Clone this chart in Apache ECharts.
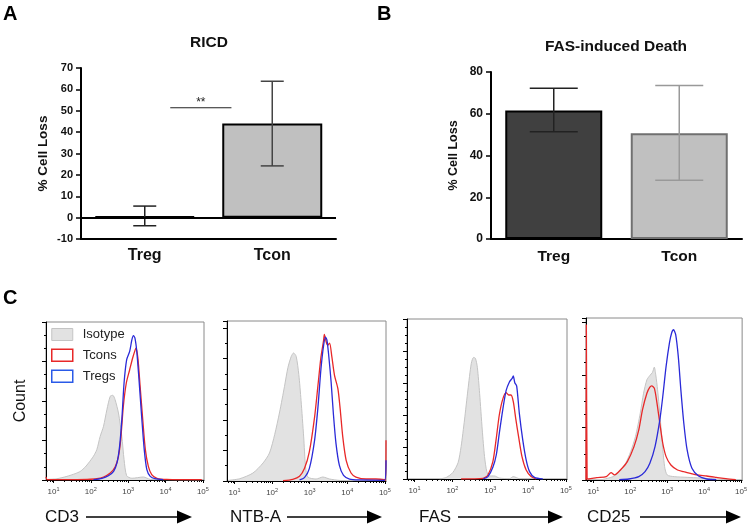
<!DOCTYPE html>
<html><head><meta charset="utf-8">
<script src="https://cdn.jsdelivr.net/npm/echarts@6/dist/echarts.min.js"></script>
<style>html,body{margin:0;padding:0;background:#fff}#c{width:750px;height:526px}</style>
</head><body><div id="c"></div>
<script>
// ---------- Data ----------
const groups = ['Treg', 'Tcon'];
// Panel A: RICD
const ricdMean = [0.5, 44.0];
const ricdLow  = [-3.8, 24.2];
const ricdHigh = [5.4, 63.8];
const ricdSig  = [0.2, 0.68, 51.4]; // bracket from/to (category units), height
const ricdSigText = '**';
// Panel B: FAS-induced death
const fasMean = [61.6, 50.6];
const fasLow  = [51.4, 28.1];
const fasHigh = [72.2, 73.5];
// Panel C: flow histograms, [log10 fluorescence, count]
const decadeExponents = [1, 2, 3, 4, 5];
const isoCD3 = [[0.83,0.4],[1.09,0.8],[1.36,2.3],[1.58,4.0],[1.72,5.5],[1.85,8.2],[1.94,10.8],[2.07,15.0],[2.16,19.2],[2.25,27.6],[2.34,34.0],[2.43,44.5],[2.52,53.0],[2.59,53.6],[2.65,50.8],[2.74,42.4],[2.83,27.6],[2.89,12.9],[2.96,2.7],[3.10,1.1],[3.41,1.9],[3.59,0.4],[3.85,0.2],[4.92,0]];
const tconCD3 = [[0.80,2.0],[0.83,0.3],[1.36,0.2],[1.90,0.4],[2.16,0.8],[2.34,1.9],[2.52,4.4],[2.65,8.2],[2.74,15.0],[2.80,25.5],[2.87,46.6],[2.95,61.4],[3.04,69.8],[3.12,77.2],[3.19,82.5],[3.21,83.5],[3.26,77.2],[3.32,59.3],[3.39,38.2],[3.46,19.2],[3.54,8.6],[3.63,3.4],[3.77,1.1],[4.03,0.4],[4.97,0.2]];
const tregCD3 = [[2.07,0.2],[2.30,1.1],[2.47,2.7],[2.61,5.5],[2.70,10.8],[2.77,21.3],[2.83,38.2],[2.89,61.4],[2.96,76.2],[3.04,81.4],[3.10,88.8],[3.14,91.4],[3.18,89.9],[3.23,81.4],[3.29,63.5],[3.36,40.3],[3.43,19.2],[3.50,6.5],[3.59,2.3],[3.72,0.8],[3.94,0.2]];
const isoNTBA = [[0.83,0.4],[1.14,1.5],[1.49,5.2],[1.76,11.8],[1.93,18.3],[2.07,30.5],[2.20,45.1],[2.33,61.9],[2.42,74.1],[2.51,81.5],[2.57,83.7],[2.64,81.5],[2.71,69.7],[2.77,52.7],[2.84,28.8],[2.89,9.2],[2.95,2.6],[3.17,1.3],[3.35,2.6],[3.53,1.3],[3.79,0.4],[4.15,0.2]];
const tconNTBA = [[2.29,0.2],[2.55,1.1],[2.73,3.1],[2.86,8.1],[2.99,19.0],[3.13,41.8],[3.22,62.5],[3.30,81.1],[3.37,92.0],[3.39,95.9],[3.44,90.9],[3.48,88.7],[3.53,90.2],[3.59,81.1],[3.66,69.1],[3.75,60.4],[3.81,47.3],[3.88,28.8],[3.97,13.5],[4.10,5.2],[4.23,2.6],[4.50,1.3],[4.76,1.3],[4.99,0.9],[5.02,0.4],[5.03,26.6]];
const tregNTBA = [[2.73,0.7],[2.86,2.2],[2.99,8.1],[3.13,26.6],[3.22,48.4],[3.30,73.4],[3.37,88.7],[3.42,94.1],[3.46,92.0],[3.51,81.1],[3.57,64.7],[3.63,44.0],[3.70,24.4],[3.79,10.2],[3.90,3.7],[4.06,1.3],[4.32,0.7],[4.99,0.4],[5.03,13.5]];
const isoFAS = [[1.66,0],[1.84,1.0],[2.01,4.0],[2.15,10.2],[2.23,20.2],[2.32,36.9],[2.41,55.6],[2.50,72.3],[2.56,76.0],[2.61,75.4],[2.66,69.8],[2.72,53.5],[2.79,30.6],[2.85,14.0],[2.91,4.6],[2.98,1.9],[3.11,1.9],[3.24,0.6],[3.51,0.2],[3.61,1.5],[3.77,0.2],[4.04,0]];
const tconFAS = [[2.23,0],[2.81,0.4],[2.94,2.5],[3.07,10.8],[3.16,25.4],[3.24,40.0],[3.33,49.8],[3.42,54.0],[3.49,52.5],[3.55,52.5],[3.61,48.3],[3.68,36.9],[3.75,26.5],[3.84,14.0],[3.95,5.6],[4.08,1.5],[4.21,0]];
const tregFAS = [[2.81,0],[2.94,1.5],[3.07,7.3],[3.16,15.0],[3.24,28.5],[3.33,43.1],[3.42,55.2],[3.51,60.8],[3.58,62.9],[3.61,64.4],[3.65,60.2],[3.70,58.1],[3.77,41.0],[3.86,24.4],[3.95,11.9],[4.04,4.6],[4.17,1.0],[4.39,0]];
const isoCD25 = [[1.26,1.3],[1.53,6.4],[1.70,15.9],[1.88,33.1],[2.01,54.1],[2.14,82.8],[2.27,127.4],[2.36,165.6],[2.45,191.1],[2.53,199.4],[2.60,205.1],[2.65,215.3],[2.69,200.6],[2.74,172.0],[2.80,127.4],[2.86,76.4],[2.93,25.5],[3.00,9.6],[3.19,6.4],[3.54,5.1],[3.89,3.8],[4.33,1.9],[4.77,0.6]];
const tconCD25 = [[0.80,0],[0.81,296],[0.83,3],[0.87,1.9],[1.09,4.5],[1.35,6.4],[1.48,14.0],[1.57,9.6],[1.75,20.4],[1.92,35.0],[2.10,63.7],[2.23,95.5],[2.33,133.8],[2.45,165.6],[2.53,177.1],[2.58,179.6],[2.65,175.2],[2.71,152.9],[2.80,108.3],[2.88,70.1],[2.97,44.6],[3.10,28.7],[3.28,19.1],[3.45,15.9],[3.63,12.7],[3.80,9.6],[4.07,7.6],[4.33,5.1],[4.59,2.5],[4.86,0.6]];
const tregCD25 = [[1.70,0.6],[1.96,1.9],[2.23,6.4],[2.40,15.9],[2.53,31.8],[2.67,63.7],[2.80,114.6],[2.88,159.2],[2.97,216.6],[3.06,261.1],[3.12,280.3],[3.17,286.6],[3.23,277.1],[3.30,235.7],[3.37,172.0],[3.45,108.3],[3.54,57.3],[3.67,22.3],[3.85,7.6],[4.07,1.9],[4.33,0.6]];
const markers = ['CD3', 'NTB-A', 'FAS', 'CD25'];
const seriesNames = ['Isotype', 'Tcons', 'Tregs'];

// ---------- Layout / style ----------
const FONT = '"Liberation Sans", Arial, Helvetica, sans-serif';
const flowData = [
  [isoCD3, tconCD3, tregCD3],
  [isoNTBA, tconNTBA, tregNTBA],
  [isoFAS, tconFAS, tregFAS],
  [isoCD25, tconCD25, tregCD25]
];
const flowLayout = [
  {grid:{left:46, top:322, width:158, height:158}, yMax:100, yInt:25, minor:3, text:45, a0:86, a1:192},
  {grid:{left:227, top:321, width:159, height:160}, yMax:104.6, yInt:20, minor:2, text:230, a0:287, a1:382},
  {grid:{left:407, top:319, width:160, height:160}, yMax:100, yInt:20, minor:4, text:419, a0:458, a1:563},
  {grid:{left:586, top:318, width:161, height:162}, yMax:309, yInt:100, minor:4, text:587, a0:640, a1:741}
];
const XMIN = 0.8, XMAX = 5.03;
const minorVals = [];
for (let d = 0; d < 5; d++) for (let k = 2; k <= 9; k++) {
  const v = d + Math.log10(k);
  if (v > XMIN && v < XMAX) minorVals.push(v);
}
const lineColors = ['#c4c4c4', '#e82828', '#2a2ad8'];

function errRender(capW, colors) {
  return function (params, api) {
    const i = api.value(0);
    const lo = api.coord([i, api.value(1)]);
    const hi = api.coord([i, api.value(2)]);
    const st = {stroke: colors[params.dataIndex], lineWidth: 1.5};
    return {type: 'group', children: [
      {type: 'line', shape: {x1: hi[0], y1: hi[1], x2: lo[0], y2: lo[1]}, style: st},
      {type: 'line', shape: {x1: hi[0] - capW / 2, y1: hi[1], x2: hi[0] + capW / 2, y2: hi[1]}, style: st},
      {type: 'line', shape: {x1: lo[0] - capW / 2, y1: lo[1], x2: lo[0] + capW / 2, y2: lo[1]}, style: st}
    ]};
  };
}

const grids = [
  {left: 81, top: 68, width: 255, height: 171},
  {left: 491, top: 72, width: 251, height: 167}
];
const xAxes = [
  {type: 'category', gridIndex: 0, data: groups, axisLine: {onZero: false, lineStyle: {color: '#000', width: 2}},
   axisTick: {show: false}, axisLabel: {fontFamily: FONT, fontWeight: 'bold', fontSize: 16, color: '#111', margin: 9}},
  {type: 'value', gridIndex: 0, min: -0.5, max: 1.5, show: false, axisLine: {onZero: false}},
  {type: 'category', gridIndex: 1, data: groups, axisLine: {onZero: false, lineStyle: {color: '#000', width: 2}},
   axisTick: {show: false}, axisLabel: {fontFamily: FONT, fontWeight: 'bold', fontSize: 15.5, color: '#111', margin: 10}}
];
const yAxes = [
  {type: 'value', gridIndex: 0, min: -10, max: 70, interval: 10, name: '% Cell Loss', nameLocation: 'middle', nameGap: 31,
   nameTextStyle: {fontFamily: FONT, fontWeight: 'bold', fontSize: 13.5, color: '#111'},
   axisLine: {show: true, onZero: false, lineStyle: {color: '#000', width: 2}}, axisTick: {show: true, length: 5, lineStyle: {width: 1.5, color: '#000'}},
   axisLabel: {fontFamily: FONT, fontWeight: 'bold', fontSize: 11, color: '#111', margin: 8}, splitLine: {show: false}},
  {type: 'value', gridIndex: 1, min: 0, max: 80, interval: 20, name: '% Cell Loss', nameLocation: 'middle', nameGap: 31,
   nameTextStyle: {fontFamily: FONT, fontWeight: 'bold', fontSize: 12.5, color: '#111'},
   axisLine: {show: true, onZero: false, lineStyle: {color: '#000', width: 2}}, axisTick: {show: true, length: 5, lineStyle: {width: 1.5, color: '#000'}},
   axisLabel: {fontFamily: FONT, fontWeight: 'bold', fontSize: 12, color: '#111', margin: 8}, splitLine: {show: false}}
];
const series = [
  {type: 'bar', xAxisIndex: 0, yAxisIndex: 0, barWidth: 100, z: 2,
   data: ricdMean.map((v, i) => ({value: v, itemStyle: i === 0 ? {color: '#000', borderColor: '#000', borderWidth: 2} : {color: '#c0c0c0', borderColor: '#000', borderWidth: 2}})),
   markLine: {silent: true, symbol: 'none', label: {show: false}, data: [{yAxis: 0}], lineStyle: {color: '#000', width: 2, type: 'solid'}}},
  {type: 'custom', xAxisIndex: 0, yAxisIndex: 0, z: 3, renderItem: errRender(23, ['#222', '#444']),
   data: groups.map((g, i) => [i, ricdLow[i], ricdHigh[i]])},
  {type: 'custom', xAxisIndex: 1, yAxisIndex: 0, z: 3,
   renderItem: function (params, api) {
     const a = api.coord([api.value(0), api.value(2)]);
     const b = api.coord([api.value(1), api.value(2)]);
     return {type: 'group', children: [
       {type: 'line', shape: {x1: a[0], y1: a[1], x2: b[0], y2: b[1]}, style: {stroke: '#222', lineWidth: 1}},
       {type: 'text', style: {text: ricdSigText, x: (a[0] + b[0]) / 2, y: a[1] + 1, align: 'center', verticalAlign: 'bottom', fontFamily: FONT, fontSize: 12, fill: '#222'}}
     ]};
   },
   data: [ricdSig]},
  {type: 'bar', xAxisIndex: 2, yAxisIndex: 1, barWidth: 97, z: 2,
   data: fasMean.map((v, i) => ({value: v, itemStyle: i === 0 ? {color: '#404040', borderColor: '#000', borderWidth: 2} : {color: '#c0c0c0', borderColor: '#707070', borderWidth: 2}}))},
  {type: 'custom', xAxisIndex: 2, yAxisIndex: 1, z: 3, renderItem: errRender(48, ['#222', '#999']),
   data: groups.map((g, i) => [i, fasLow[i], fasHigh[i]])}
];

const graphics = [
  {type: 'text', left: 3, top: 4, style: {text: 'A', fontFamily: FONT, fontWeight: 'bold', fontSize: 20, fill: '#000'}},
  {type: 'text', left: 377, top: 4, style: {text: 'B', fontFamily: FONT, fontWeight: 'bold', fontSize: 20, fill: '#000'}},
  {type: 'text', left: 3, top: 288, style: {text: 'C', fontFamily: FONT, fontWeight: 'bold', fontSize: 20, fill: '#000'}},
  {type: 'text', x: 209, y: 43, style: {text: 'RICD', align: 'center', verticalAlign: 'middle', fontFamily: FONT, fontWeight: 'bold', fontSize: 15.5, fill: '#111'}},
  {type: 'text', x: 616, y: 47, style: {text: 'FAS-induced Death', align: 'center', verticalAlign: 'middle', fontFamily: FONT, fontWeight: 'bold', fontSize: 15.5, fill: '#111'}}
];

flowLayout.forEach((L, p) => {
  const gi = grids.length;
  grids.push(Object.assign({show: true, borderColor: '#8a8a8a', borderWidth: 1}, L.grid));
  const xi = xAxes.length;
  xAxes.push({type: 'value', gridIndex: gi, min: XMIN, max: XMAX, position: 'bottom',
    axisLine: {show: true, onZero: false, lineStyle: {color: '#000', width: 1}},
    axisTick: {show: true, customValues: decadeExponents, length: 3, lineStyle: {color: '#000'}},
    axisLabel: {customValues: decadeExponents, formatter: v => '10{s|' + v + '}', fontFamily: FONT, fontSize: 8, color: '#444', margin: 6,
      rich: {s: {fontSize: 5.5, fontFamily: FONT, color: '#444', verticalAlign: 'bottom', padding: [0, 0, 5, 0]}}},
    splitLine: {show: false}});
  xAxes.push({type: 'value', gridIndex: gi, min: XMIN, max: XMAX, position: 'bottom',
    axisLine: {show: false, onZero: false}, axisLabel: {show: false},
    axisTick: {show: true, customValues: minorVals, length: 2, lineStyle: {color: '#000'}}, splitLine: {show: false}});
  const yi = yAxes.length;
  yAxes.push(Object.assign({type: 'value', gridIndex: gi, min: 0, max: L.yMax, interval: L.yInt,
    axisLine: {show: true, onZero: false, lineStyle: {color: '#000', width: 1}},
    axisTick: {show: true, length: 4, lineStyle: {color: '#000'}},
    minorTick: {show: true, splitNumber: L.minor, length: 2, lineStyle: {color: '#000'}},
    axisLabel: {show: false}, splitLine: {show: false}},
    p === 0 ? {name: 'Count', nameLocation: 'middle', nameGap: 17, nameTextStyle: {fontFamily: FONT, fontSize: 16, color: '#111'}} : {}));
  flowData[p].forEach((d, s) => {
    series.push({type: 'line', name: seriesNames[s], xAxisIndex: xi, yAxisIndex: yi, data: d, showSymbol: false, symbol: 'none',
      smooth: 0.25, z: 2 + s, lineStyle: {color: lineColors[s], width: s === 0 ? 1 : 1.3},
      itemStyle: {color: lineColors[s]},
      areaStyle: s === 0 ? {color: '#e2e2e2', opacity: 1} : undefined});
  });
  const yMid = 517;
  graphics.push({type: 'text', x: L.text, y: yMid, style: {text: markers[p], verticalAlign: 'middle', fontFamily: FONT, fontSize: 17, fill: '#111'}});
  graphics.push({type: 'line', shape: {x1: L.a0, y1: yMid, x2: L.a1 - 12, y2: yMid}, style: {stroke: '#000', lineWidth: 1.3}});
  graphics.push({type: 'polygon', shape: {points: [[L.a1 - 15, yMid - 6.5], [L.a1, yMid], [L.a1 - 15, yMid + 6.5]]}, style: {fill: '#000'}});
});

const chart = echarts.init(document.getElementById('c'));
chart.setOption({
  animation: false,
  backgroundColor: '#fff',
  textStyle: {fontFamily: FONT},
  grid: grids, xAxis: xAxes, yAxis: yAxes, series: series, graphic: graphics,
  legend: {left: 51, top: 328, orient: 'vertical', padding: 0, itemWidth: 21, itemHeight: 12, itemGap: 7.5, selectedMode: false,
    textStyle: {fontFamily: FONT, fontSize: 13, color: '#222', padding: [0, 0, 0, 5]},
    data: [
      {name: 'Isotype', icon: 'rect', itemStyle: {color: '#e2e2e2', borderColor: '#c4c4c4', borderWidth: 1}},
      {name: 'Tcons', icon: 'rect', itemStyle: {color: '#fff', borderColor: '#e82828', borderWidth: 1.5}},
      {name: 'Tregs', icon: 'rect', itemStyle: {color: '#fff', borderColor: '#2a5ae8', borderWidth: 1.5}}
    ]}
});
</script></body></html>
